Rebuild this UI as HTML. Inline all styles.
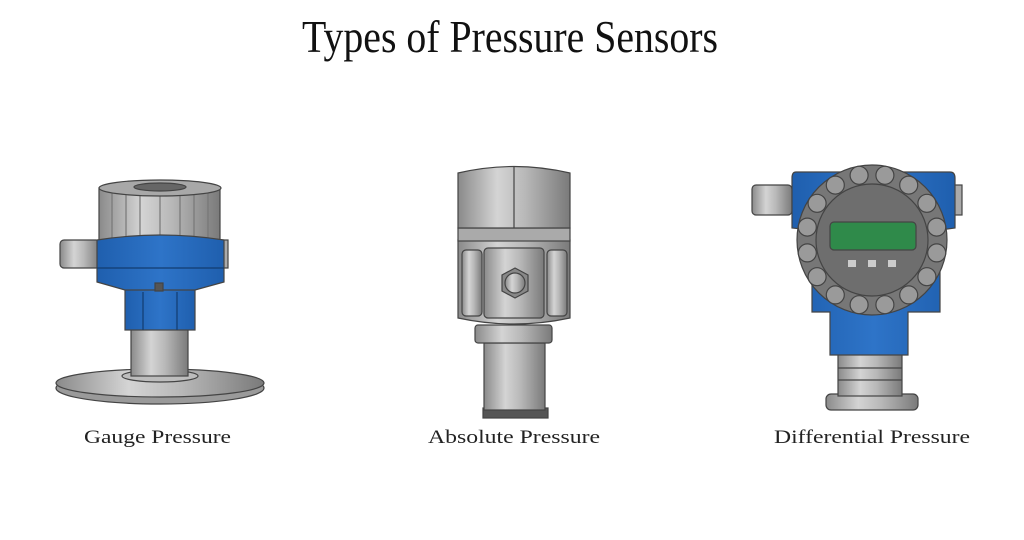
<!DOCTYPE html>
<html><head><meta charset="utf-8"><style>html,body{margin:0;padding:0;background:#fff}svg{display:block}</style></head>
<body>
<svg width="1024" height="540" viewBox="0 0 1024 540" xmlns="http://www.w3.org/2000/svg">
<defs>
<linearGradient id="m" x1="0" x2="1" y1="0" y2="0">
<stop offset="0" stop-color="#8a8a8a"/><stop offset="0.35" stop-color="#d4d4d4"/><stop offset="0.6" stop-color="#b8b8b8"/><stop offset="1" stop-color="#7a7a7a"/></linearGradient>
<linearGradient id="b" x1="0" x2="1" y1="0" y2="0">
<stop offset="0" stop-color="#1f5fae"/><stop offset="0.5" stop-color="#2e74c8"/><stop offset="1" stop-color="#1f5fae"/></linearGradient>
</defs>
<text x="510" y="52" text-anchor="middle" font-family="Liberation Serif, serif" font-size="46" textLength="416" lengthAdjust="spacingAndGlyphs" fill="#111">Types of Pressure Sensors</text>
<g font-family="Liberation Serif, serif" font-size="19" fill="#222">
<text x="84" y="443" textLength="147" lengthAdjust="spacingAndGlyphs">Gauge Pressure</text>
<text x="428" y="443" textLength="172" lengthAdjust="spacingAndGlyphs">Absolute Pressure</text>
<text x="774" y="443" textLength="196" lengthAdjust="spacingAndGlyphs">Differential Pressure</text>
</g>
<g stroke="#444" stroke-width="1.2">
<!-- gauge -->
<ellipse cx="160" cy="388" rx="104" ry="16" fill="#9a9a9a"/>
<ellipse cx="160" cy="383" rx="104" ry="14" fill="url(#m)"/>
<ellipse cx="160" cy="376" rx="38" ry="6" fill="#bdbdbd"/>
<rect x="131" y="328" width="57" height="48" fill="url(#m)"/>
<rect x="125" y="288" width="70" height="42" fill="url(#b)"/>
<line x1="143" y1="292" x2="143" y2="330" stroke="#123c70"/><line x1="177" y1="292" x2="177" y2="330" stroke="#123c70"/>
<rect x="60" y="240" width="40" height="28" rx="4" fill="url(#m)"/>
<rect x="220" y="240" width="8" height="28" fill="#aaa"/>
<rect x="99" y="188" width="121" height="58" fill="url(#m)"/>
<g stroke="#777"><line x1="112" y1="190" x2="112" y2="245"/><line x1="126" y1="192" x2="126" y2="245"/><line x1="140" y1="193" x2="140" y2="245"/><line x1="160" y1="194" x2="160" y2="245"/><line x1="180" y1="193" x2="180" y2="245"/><line x1="194" y1="192" x2="194" y2="245"/><line x1="208" y1="190" x2="208" y2="245"/></g>
<ellipse cx="160" cy="188" rx="61" ry="8" fill="#a8a8a8"/>
<ellipse cx="160" cy="187" rx="26" ry="4" fill="#666"/>
<path d="M97 240 Q160 230 224 240 L224 282 L195 290 L125 290 L97 282 Z" fill="url(#b)"/>
<line x1="97" y1="268" x2="224" y2="268" stroke="#123c70"/>
<rect x="155" y="283" width="8" height="8" fill="#555"/>
<!-- absolute -->
<rect x="483" y="408" width="65" height="10" fill="#555"/>
<rect x="484" y="343" width="61" height="67" fill="url(#m)"/>
<rect x="475" y="325" width="77" height="18" rx="3" fill="url(#m)"/>
<path d="M458 240 L570 240 L570 318 Q514 330 458 318 Z" fill="url(#m)"/>
<rect x="462" y="250" width="20" height="66" rx="4" fill="url(#m)"/>
<rect x="547" y="250" width="20" height="66" rx="4" fill="url(#m)"/>
<rect x="484" y="248" width="60" height="70" rx="4" fill="url(#m)"/>
<polygon points="515,268 528,275 528,291 515,298 502,291 502,275" fill="#888"/>
<circle cx="515" cy="283" r="10" fill="url(#m)"/>
<rect x="458" y="228" width="112" height="13" fill="#aaa"/>
<path d="M458 173 Q514 160 570 173 L570 228 L458 228 Z" fill="url(#m)"/>
<line x1="514" y1="166" x2="514" y2="228"/>
<!-- differential -->
<rect x="826" y="394" width="92" height="16" rx="5" fill="url(#m)"/>
<rect x="838" y="354" width="64" height="42" fill="url(#m)"/>
<line x1="838" y1="368" x2="902" y2="368"/><line x1="838" y1="380" x2="902" y2="380"/>
<rect x="752" y="185" width="40" height="30" rx="4" fill="url(#m)"/>
<rect x="952" y="185" width="10" height="30" fill="#aaa"/>
<path d="M796 172 L950 172 Q955 172 955 178 L955 228 L940 230 L940 312 L908 312 L908 355 L830 355 L830 312 L812 312 L812 230 L792 228 L792 178 Q792 172 796 172 Z" fill="url(#b)"/>
<circle cx="872" cy="240" r="75" fill="#777"/>
<g fill="#9a9a9a" stroke="#444">
<circle cx="936.7" cy="252.9" r="9"/><circle cx="926.9" cy="276.7" r="9"/><circle cx="908.7" cy="294.9" r="9"/><circle cx="884.9" cy="304.7" r="9"/>
<circle cx="859.1" cy="304.7" r="9"/><circle cx="835.3" cy="294.9" r="9"/><circle cx="817.1" cy="276.7" r="9"/><circle cx="807.3" cy="252.9" r="9"/>
<circle cx="807.3" cy="227.1" r="9"/><circle cx="817.1" cy="203.3" r="9"/><circle cx="835.3" cy="185.1" r="9"/><circle cx="859.1" cy="175.3" r="9"/>
<circle cx="884.9" cy="175.3" r="9"/><circle cx="908.7" cy="185.1" r="9"/><circle cx="926.9" cy="203.3" r="9"/><circle cx="936.7" cy="227.1" r="9"/>
</g>
<circle cx="872" cy="240" r="56" fill="#6e6e6e"/>
<rect x="830" y="222" width="86" height="28" rx="4" fill="#2f8a4a"/>
<rect x="848" y="260" width="8" height="7" fill="#ccc" stroke="none"/><rect x="868" y="260" width="8" height="7" fill="#ccc" stroke="none"/><rect x="888" y="260" width="8" height="7" fill="#ccc" stroke="none"/>
</g>
</svg>
</body></html>
